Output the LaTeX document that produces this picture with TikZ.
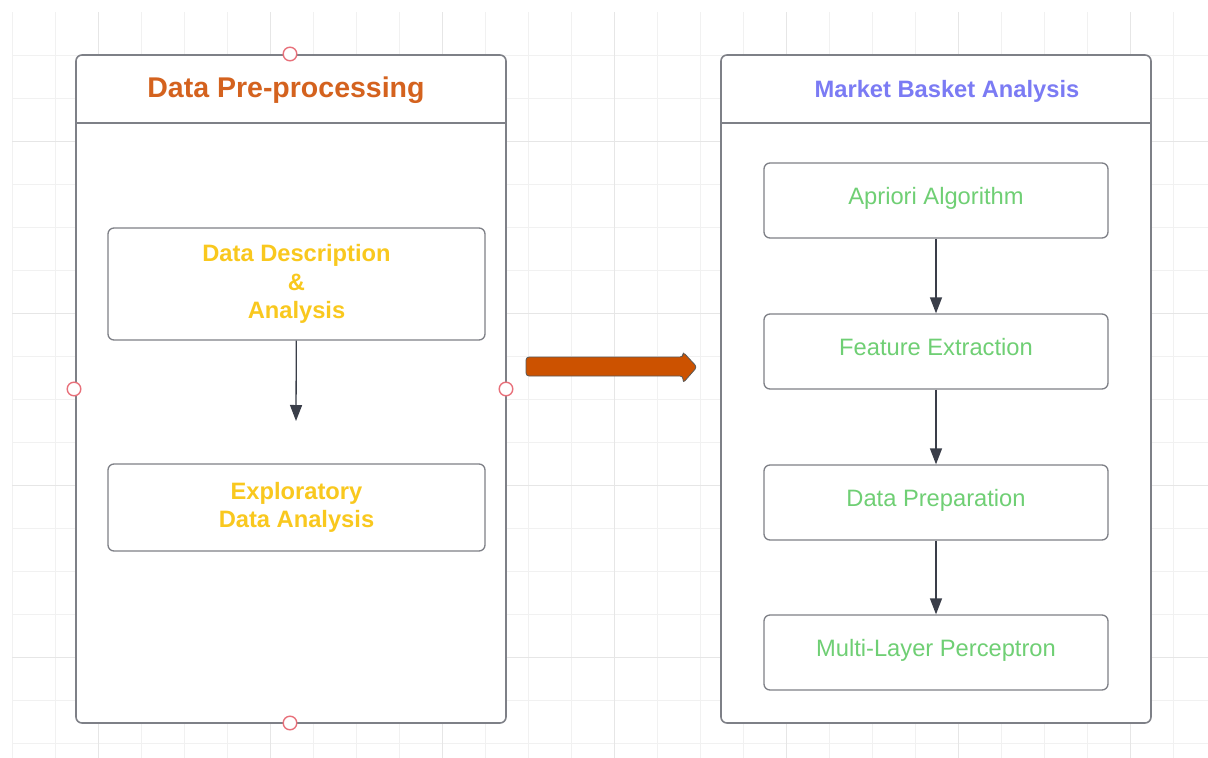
\documentclass[tikz,border=0pt]{standalone}
\usepackage{fontspec}
\setmainfont{Liberation Sans}
\usepackage{tikz}
\usetikzlibrary{arrows.meta}

\definecolor{gridMinor}{HTML}{F1F1F1}
\definecolor{gridMajor}{HTML}{E6E6E6}
\definecolor{frameGray}{HTML}{7E8087}
\definecolor{arrowInk}{HTML}{3A3E49}
\definecolor{titleOrange}{HTML}{D4621E}
\definecolor{titleBlue}{HTML}{7B7BF4}
\definecolor{stepYellow}{HTML}{F9C81E}
\definecolor{stepGreen}{HTML}{6FCF74}
\definecolor{bigArrowFill}{HTML}{CC5200}
\definecolor{handleRed}{HTML}{E8707A}

\newcommand{\drawHandle}[1]{\draw [handleRed, fill=white, line width=1.4pt] #1 circle [radius=6.8pt]}
\newcommand{\stepFont}{\fontsize{23.7}{28.3}\selectfont}

\tikzset{
  gridMinorLine/.style={gridMinor, line width=1pt},
  gridMajorLine/.style={gridMajor, line width=1pt},
  laneFrame/.style={draw=frameGray, fill=white, line width=1.6pt, rounded corners=6pt, inner sep=0pt},
  laneTitle/.style={anchor=base, font=\fontsize{#1}{#1}\selectfont\bfseries, inner sep=0pt},
  stepBox/.style={draw=frameGray, fill=white, line width=1.3pt, rounded corners=6pt, align=center, font=\stepFont},
  greenStep/.style={stepBox, minimum width=344pt, minimum height=75pt, text=stepGreen, text height=17pt, text depth=9pt},
  flowArrow/.style={arrowInk, line width=1.3pt, -{Triangle[length=16pt, width=12pt]}},
}

\begin{document}
\begin{tikzpicture}[x=1pt, y=-1pt]
    \useasboundingbox (0,0) rectangle (1208,758);

    %grid
    \foreach \i in {0,...,27} {
        \draw [gridMinorLine] ({12+43*\i},12) -- ({12+43*\i},758);
    }
    \foreach \j in {1,...,17} {
        \draw [gridMinorLine] (12,{12+43*\j}) -- (1208,{12+43*\j});
    }
    \foreach \i in {2,6,...,26} {
        \draw [gridMajorLine] ({12+43*\i},12) -- ({12+43*\i},758);
    }
    \foreach \j in {3,7,11,15} {
        \draw [gridMajorLine] (12,{12+43*\j}) -- (1208,{12+43*\j});
    }

    %for data pre-processing
    \node [laneFrame, minimum width=430pt, minimum height=668pt] (prepLane) at (291,389) {};
    \draw [frameGray, line width=1.6pt] ([yshift=-69pt]prepLane.north west) -- ([yshift=-69pt]prepLane.north east);
    \node [laneTitle=28.5, text=titleOrange] (prepTitle) at (286,97) {Data Pre-processing};

    \node [stepBox, minimum width=377pt, minimum height=112pt, text=stepYellow, font=\stepFont\bfseries] (descBox) at (296.5,284) {Data Description\\\&\\Analysis};
    \node [stepBox, minimum width=377pt, minimum height=87pt, text=stepYellow, font=\stepFont\bfseries] (edaBox) at (296.5,507.5) {Exploratory\\Data Analysis};
    \coordinate (descEnd) at (296,421);
    \draw [flowArrow] (descBox) -- (descEnd);

    \drawHandle{(290,54)};
    \drawHandle{(74,389)};
    \drawHandle{(506,389)};
    \drawHandle{(290,723)};

    %for market basket analysis
    \node [laneFrame, minimum width=430pt, minimum height=668pt] (mbaLane) at (936,389) {};
    \draw [frameGray, line width=1.6pt] ([yshift=-69pt]mbaLane.north west) -- ([yshift=-69pt]mbaLane.north east);
    \node [laneTitle=23.7, text=titleBlue] (mbaTitle) at (947,97) {Market Basket Analysis};

    \node [greenStep] (aprioriBox) at (936,200.5) {Apriori Algorithm};
    \node [greenStep] (featureBox) at (936,351.5) {Feature Extraction};
    \node [greenStep] (prepareBox) at (936,502.5) {Data Preparation};
    \node [greenStep] (mlpBox) at (936,652.5) {Multi-Layer Perceptron};
    \draw [flowArrow] (aprioriBox) -- (featureBox);
    \draw [flowArrow] (featureBox) -- (prepareBox);
    \draw [flowArrow] (prepareBox) -- (mlpBox);

    %big arrow between the two
    \draw [black!65, fill=bigArrowFill, line width=0.8pt, rounded corners=3pt]
        (526,357) -- (683,357) -- (683,352) -- (697,367) -- (683,383) -- (683,376) -- (526,376) -- cycle;
\end{tikzpicture}
\end{document}
